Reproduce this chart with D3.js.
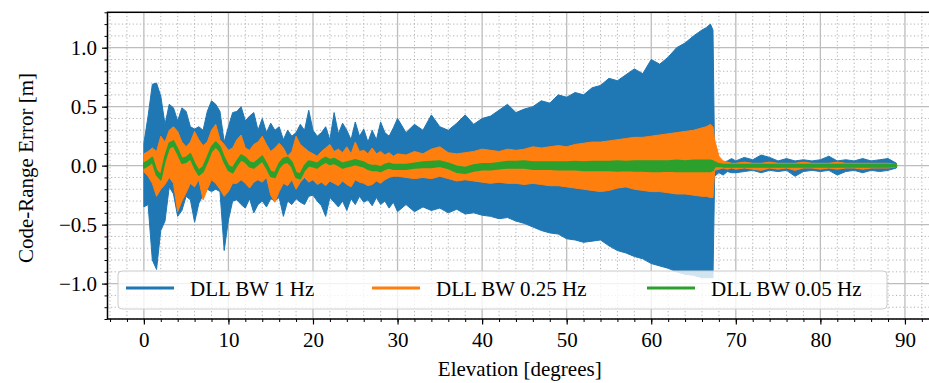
<!DOCTYPE html>
<html>
<head>
<meta charset="utf-8">
<script src="https://cdn.jsdelivr.net/npm/d3@7"></script>
<style>
  body { margin: 0; background: #fff; }
  svg text { font-family: "Liberation Serif", "DejaVu Serif", serif; fill: #000; }
</style>
</head>
<body>
<svg id="chart" width="929" height="383"></svg>
<script>
"use strict"

// sample grid (degrees) shared by the envelopes below
const elevation = [0,0.5,1,1.5,2,2.5,3,3.5,4,4.5,5,5.5,6,6.5,7,7.5,8,8.5,9,9.5,
    10,10.5,11,11.5,12,12.5,13,13.5,14,14.5,15,15.5,16,16.5,17,17.5,18,18.5,19,19.5,
    20,20.5,21,21.5,22,22.5,23,23.5,24,24.5,25,25.5,26,26.5,27,27.5,28,28.5,29,29.5,
    30,31,32,33,34,35,36,37,38,39,40,41,42,43,44,45,46,47,48,49,
    50,51,52,53,54,55,56,57,58,59,60,61,62,63,64,65,66,66.5,67,67.3,
    67.5,68,68.5,69,69.5,70,71,72,73,74,75,76,77,78,79,80,81,82,83,84,
    85,86,87,88,89]

// DLL BW 1 Hz  (upper / lower envelope, m)
const blueHi = [0.19,0.42,0.69,0.70,0.59,0.35,0.52,0.49,0.38,0.49,0.46,0.33,0.31,0.33,0.30,0.46,0.55,0.52,0.46,0.20,
    0.33,0.45,0.46,0.50,0.38,0.42,0.45,0.30,0.40,0.28,0.36,0.30,0.33,0.22,0.30,0.25,0.28,0.35,0.30,0.47,
    0.30,0.25,0.28,0.33,0.22,0.45,0.27,0.36,0.30,0.22,0.37,0.25,0.31,0.20,0.30,0.22,0.37,0.28,0.25,0.32,
    0.40,0.28,0.35,0.30,0.43,0.33,0.30,0.36,0.43,0.35,0.40,0.42,0.47,0.52,0.45,0.48,0.50,0.55,0.53,0.60,
    0.58,0.62,0.60,0.66,0.68,0.74,0.72,0.77,0.82,0.78,0.90,0.86,0.92,1.00,1.04,1.10,1.15,1.17,1.20,1.15,
    0.03,0.05,0.03,0.04,0.06,0.04,0.07,0.05,0.09,0.07,0.04,0.06,0.04,0.05,0.04,0.05,0.08,0.04,0.05,0.04,
    0.06,0.04,0.05,0.06,0.02]
const blueLo = [-0.35,-0.33,-0.80,-0.88,-0.55,-0.47,-0.18,-0.24,-0.43,-0.38,-0.26,-0.29,-0.48,-0.32,-0.25,-0.20,-0.22,-0.20,-0.22,-0.72,
    -0.46,-0.30,-0.29,-0.33,-0.36,-0.28,-0.40,-0.33,-0.30,-0.35,-0.28,-0.30,-0.27,-0.43,-0.30,-0.33,-0.28,-0.31,-0.33,-0.26,
    -0.25,-0.30,-0.34,-0.43,-0.27,-0.31,-0.35,-0.30,-0.38,-0.28,-0.33,-0.26,-0.31,-0.29,-0.34,-0.27,-0.33,-0.30,-0.36,-0.31,
    -0.39,-0.33,-0.39,-0.35,-0.38,-0.36,-0.40,-0.37,-0.41,-0.40,-0.42,-0.43,-0.45,-0.44,-0.47,-0.49,-0.52,-0.55,-0.57,-0.58,
    -0.62,-0.63,-0.65,-0.64,-0.63,-0.68,-0.72,-0.74,-0.77,-0.79,-0.83,-0.85,-0.87,-0.90,-0.92,-0.93,-0.95,-0.95,-0.95,-0.95,
    -0.09,-0.06,-0.08,-0.05,-0.06,-0.06,-0.05,-0.04,-0.06,-0.04,-0.05,-0.04,-0.09,-0.05,-0.04,-0.05,-0.04,-0.08,-0.05,-0.04,
    -0.06,-0.04,-0.05,-0.04,-0.02]

// DLL BW 0.25 Hz
const orangeHi = [0.10,0.12,0.15,0.12,0.25,0.20,0.30,0.33,0.29,0.20,0.16,0.20,0.29,0.22,0.17,0.20,0.30,0.35,0.22,0.18,
    0.13,0.15,0.22,0.26,0.15,0.13,0.18,0.20,0.25,0.18,0.12,0.15,0.19,0.15,0.08,0.12,0.25,0.18,0.15,0.12,
    0.10,0.08,0.12,0.15,0.18,0.12,0.14,0.11,0.16,0.10,0.20,0.12,0.13,0.10,0.15,0.10,0.12,0.09,0.11,0.08,
    0.10,0.09,0.12,0.10,0.14,0.16,0.11,0.10,0.11,0.12,0.14,0.13,0.12,0.14,0.13,0.14,0.16,0.15,0.16,0.17,
    0.16,0.18,0.19,0.20,0.20,0.21,0.22,0.23,0.24,0.24,0.25,0.26,0.27,0.28,0.29,0.30,0.32,0.33,0.35,0.33,
    0.22,0.08,0.04,0.03,0.02,0.02,0.03,0.02,0.02,0.03,0.02,0.02,0.02,0.03,0.02,0.02,0.02,0.03,0.02,0.02,
    0.02,0.02,0.02,0.02,0.01]
const orangeLo = [-0.05,-0.09,-0.15,-0.26,-0.20,-0.16,-0.10,-0.15,-0.39,-0.30,-0.23,-0.15,-0.18,-0.12,-0.29,-0.20,-0.12,-0.15,-0.20,-0.26,
    -0.22,-0.15,-0.15,-0.12,-0.15,-0.19,-0.14,-0.12,-0.14,-0.10,-0.25,-0.31,-0.22,-0.15,-0.17,-0.12,-0.20,-0.14,-0.10,-0.14,
    -0.12,-0.16,-0.14,-0.17,-0.13,-0.15,-0.17,-0.13,-0.16,-0.18,-0.12,-0.14,-0.15,-0.17,-0.16,-0.13,-0.15,-0.12,-0.10,-0.09,
    -0.09,-0.10,-0.11,-0.10,-0.11,-0.09,-0.11,-0.13,-0.12,-0.13,-0.14,-0.15,-0.14,-0.15,-0.15,-0.16,-0.15,-0.16,-0.17,-0.17,
    -0.18,-0.19,-0.20,-0.21,-0.22,-0.21,-0.19,-0.18,-0.20,-0.21,-0.22,-0.22,-0.23,-0.24,-0.24,-0.25,-0.26,-0.26,-0.27,-0.27,
    -0.04,-0.03,-0.02,-0.03,-0.02,-0.03,-0.02,-0.03,-0.04,-0.02,-0.03,-0.02,-0.04,-0.02,-0.02,-0.03,-0.02,-0.03,-0.02,-0.02,
    -0.03,-0.02,-0.02,-0.02,-0.01]

// DLL BW 0.05 Hz
const greenHi = [0.02,0.04,0.07,-0.04,-0.08,0.08,0.19,0.21,0.14,0.06,0.07,0.10,0.02,-0.04,-0.01,0.07,0.16,0.20,0.16,0.07,
    0.0,-0.02,0.04,0.09,0.07,0.03,0.02,0.05,0.08,0.02,-0.05,-0.06,0.02,0.06,0.07,0.03,-0.06,-0.07,0.0,0.04,
    0.03,0.02,0.05,0.07,0.05,0.06,0.04,0.02,0.03,0.04,0.05,0.04,0.03,0.01,0.0,0.0,-0.01,0.01,0.02,0.01,
    0.01,0.01,0.02,0.03,0.035,0.04,0.02,-0.005,-0.015,0.005,0.015,0.015,0.025,0.035,0.035,0.04,0.03,0.03,0.03,0.03,
    0.03,0.035,0.03,0.035,0.035,0.035,0.04,0.035,0.04,0.04,0.04,0.04,0.04,0.045,0.04,0.045,0.045,0.045,0.045,0.04,
    0.03,0.015,0.01,0.01,0.01,0.01,0.01,0.01,0.01,0.01,0.01,0.01,0.01,0.01,0.01,0.01,0.01,0.01,0.01,0.01,
    0.01,0.01,0.01,0.01,0.005]
const greenLo = [-0.02,0.0,0.03,-0.08,-0.12,0.04,0.15,0.17,0.10,0.02,0.03,0.06,-0.02,-0.08,-0.05,0.03,0.12,0.16,0.12,0.03,
    -0.04,-0.06,0.0,0.05,0.03,-0.01,-0.02,0.01,0.04,-0.02,-0.09,-0.10,-0.02,0.02,0.03,-0.01,-0.10,-0.11,-0.04,0.0,
    -0.01,-0.02,0.01,0.03,0.01,0.02,0.0,-0.02,-0.01,0.0,0.01,0.0,-0.01,-0.03,-0.04,-0.04,-0.05,-0.03,-0.02,-0.03,
    -0.03,-0.03,-0.02,-0.015,-0.015,-0.005,-0.025,-0.055,-0.065,-0.045,-0.035,-0.035,-0.025,-0.02,-0.02,-0.02,-0.03,-0.03,-0.03,-0.035,
    -0.035,-0.035,-0.04,-0.04,-0.04,-0.04,-0.045,-0.04,-0.045,-0.045,-0.05,-0.05,-0.045,-0.05,-0.05,-0.05,-0.05,-0.05,-0.05,-0.04,
    -0.01,-0.005,-0.01,-0.01,-0.01,-0.01,-0.01,-0.01,-0.01,-0.01,-0.01,-0.01,-0.01,-0.01,-0.01,-0.01,-0.01,-0.01,-0.01,-0.01,
    -0.01,-0.01,-0.01,-0.01,-0.005]

const seriesNames = ["DLL BW 1 Hz", "DLL BW 0.25 Hz", "DLL BW 0.05 Hz"]
const seriesColors = ["#1f77b4", "#ff7f0e", "#2ca02c"]
const xTicks = [0, 10, 20, 30, 40, 50, 60, 70, 80, 90]
const yTicks = [-1.0, -0.5, 0.0, 0.5, 1.0]

let svg = d3.select("#chart")

let plotLeft = 107.5, plotRight = 932, plotTop = 12.3, plotBottom = 319

let x = d3.scaleLinear().domain([-4.3, 93.2]).range([plotLeft, plotRight])
let y = d3.scaleLinear().domain([-1.3, 1.3]).range([plotBottom, plotTop])

let xMinor = d3.range(-4, 93.2, 2)
let yMinor = d3.range(-13, 14, 1).map(d => d / 10)

svg.append("defs").append("clipPath").attr("id", "clip")
    .append("rect")
    .attr("x", plotLeft).attr("y", plotTop)
    .attr("width", plotRight - plotLeft).attr("height", plotBottom - plotTop)

// grid
let grid = svg.append("g")
grid.selectAll(".vminor").data(xMinor.filter(d => d % 10 !== 0)).enter().append("line")
    .attr("x1", d => x(d)).attr("x2", d => x(d))
    .attr("y1", plotTop).attr("y2", plotBottom)
    .attr("stroke", "#a8a8a8").attr("stroke-width", 0.9).attr("stroke-dasharray", "1.2,2.4")
grid.selectAll(".hminor").data(yMinor.filter(d => Math.abs(d * 2 - Math.round(d * 2)) > 1e-6)).enter().append("line")
    .attr("x1", plotLeft).attr("x2", plotRight)
    .attr("y1", d => y(d)).attr("y2", d => y(d))
    .attr("stroke", "#a8a8a8").attr("stroke-width", 0.9).attr("stroke-dasharray", "1.2,2.4")
grid.selectAll(".vmajor").data(xTicks).enter().append("line")
    .attr("x1", d => x(d)).attr("x2", d => x(d))
    .attr("y1", plotTop).attr("y2", plotBottom)
    .attr("stroke", "#bdbdbd").attr("stroke-width", 1.3)
grid.selectAll(".hmajor").data(yTicks).enter().append("line")
    .attr("x1", plotLeft).attr("x2", plotRight)
    .attr("y1", d => y(d)).attr("y2", d => y(d))
    .attr("stroke", "#bdbdbd").attr("stroke-width", 1.3)

// series as envelopes
let series = [
    {lo: blueLo, hi: blueHi},
    {lo: orangeLo, hi: orangeHi},
    {lo: greenLo, hi: greenHi}
]

let area = d3.area()
    .x(d => x(d[0]))
    .y0(d => y(d[1]))
    .y1(d => y(d[2]))

let plot = svg.append("g").attr("clip-path", "url(#clip)")
series.forEach((s, i) => {
    let pts = elevation.map((e, j) => [e, s.lo[j], s.hi[j]])
    plot.append("path")
        .datum(pts)
        .attr("d", area)
        .attr("fill", seriesColors[i])
        .attr("stroke", seriesColors[i])
        .attr("stroke-width", i === 2 ? 1.6 : 1)
        .attr("stroke-linejoin", "round")
})

// axes
let fmt = d => d3.format(".1f")(d).replace("-", "\u2212")
let serif = "'Liberation Serif', 'DejaVu Serif', serif"

svg.append("g")
    .attr("transform", "translate(" + plotLeft + ",0)")
    .call(d3.axisLeft(y).tickValues(yMinor).tickSize(3).tickFormat(""))
    .call(g => g.select(".domain").remove())
    .call(g => g.selectAll("line").attr("stroke-width", 1))

svg.append("g")
    .attr("transform", "translate(" + plotLeft + ",0)")
    .call(d3.axisLeft(y).tickValues(yTicks).tickSize(5.5).tickPadding(5).tickFormat(fmt))
    .attr("font-family", serif).attr("font-size", 21)
    .call(g => g.select(".domain").remove())
    .call(g => g.selectAll("line").attr("stroke-width", 1.2))

svg.append("g")
    .attr("transform", "translate(0," + plotBottom + ")")
    .call(d3.axisBottom(x).tickValues(xMinor).tickSize(3).tickFormat(""))
    .call(g => g.select(".domain").remove())
    .call(g => g.selectAll("line").attr("stroke-width", 1))

svg.append("g")
    .attr("transform", "translate(0," + plotBottom + ")")
    .call(d3.axisBottom(x).tickValues(xTicks).tickSize(5.5).tickPadding(8).tickFormat(d3.format("d")))
    .attr("font-family", serif).attr("font-size", 21)
    .call(g => g.select(".domain").remove())
    .call(g => g.selectAll("line").attr("stroke-width", 1.2))

// spines
svg.append("rect")
    .attr("x", plotLeft).attr("y", plotTop)
    .attr("width", plotRight - plotLeft).attr("height", plotBottom - plotTop)
    .attr("fill", "none").attr("stroke", "#000").attr("stroke-width", 1.5)

// labels
svg.append("text")
    .attr("x", (plotLeft + plotRight) / 2).attr("y", 376)
    .attr("text-anchor", "middle").attr("font-size", 21)
    .text("Elevation [degrees]")

svg.append("text")
    .attr("transform", "translate(33,168) rotate(-90)")
    .attr("text-anchor", "middle").attr("font-size", 21)
    .text("Code-Range Error [m]")

// legend
let legend = svg.append("g")
legend.append("rect")
    .attr("x", 118).attr("y", 271)
    .attr("width", 769).attr("height", 38)
    .attr("rx", 4)
    .attr("fill", "#fff").attr("fill-opacity", 0.8)
    .attr("stroke", "#cccccc").attr("stroke-width", 1)

let legendX = [126, 372, 647]
seriesNames.forEach((name, i) => {
    legend.append("line")
        .attr("x1", legendX[i]).attr("x2", legendX[i] + 48)
        .attr("y1", 288).attr("y2", 288)
        .attr("stroke", seriesColors[i]).attr("stroke-width", 3)
    legend.append("text")
        .attr("x", legendX[i] + 64).attr("y", 295.5)
        .attr("font-size", 21)
        .text(name)
})
</script>
</body>
</html>
